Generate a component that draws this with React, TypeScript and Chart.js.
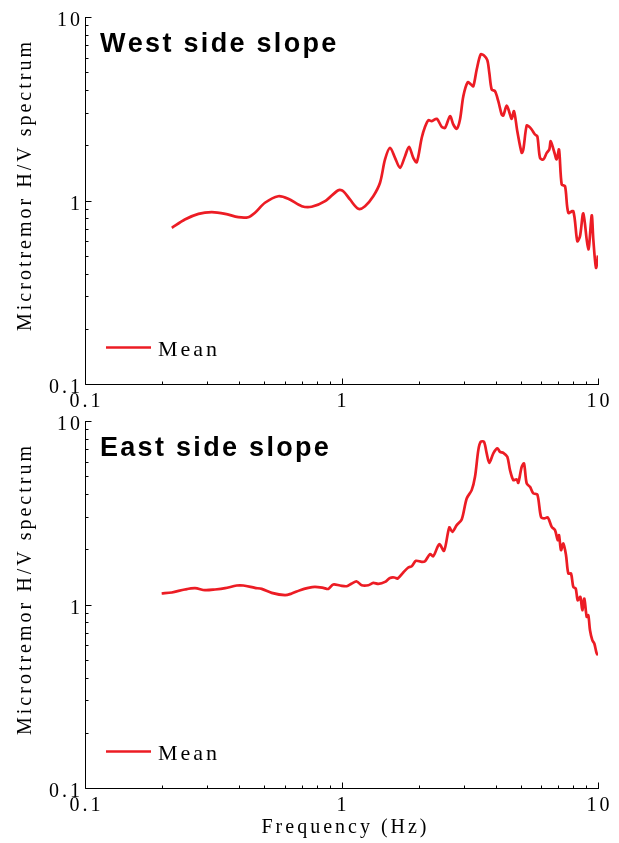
import React, { useEffect, useRef } from 'react';
import { Chart, registerables } from 'chart.js';

Chart.register(...registerables);

// ---------- data ----------
const westFreq = [
  0.218, 0.245, 0.277, 0.312, 0.352, 0.396, 0.433, 0.46, 0.503, 0.567, 0.62, 0.7, 0.765, 0.863, 0.972,
  1.016, 1.079, 1.163, 1.235, 1.33, 1.413, 1.478, 1.546, 1.617, 1.691, 1.769, 1.833, 1.905, 1.965,
  2.055, 2.117, 2.181, 2.248, 2.351, 2.459, 2.533, 2.649, 2.729, 2.813, 2.897, 2.985, 3.105, 3.198,
  3.265, 3.366, 3.489, 3.594, 3.702, 3.769, 3.851, 3.967, 4.086, 4.213, 4.274, 4.407, 4.539, 4.608,
  4.705, 4.846, 5.041, 5.114, 5.272, 5.397, 5.514, 5.681, 5.8, 5.942, 6.121, 6.31, 6.459, 6.541,
  6.738, 6.902, 7.047, 7.219, 7.437, 7.661, 8.012, 8.305, 8.508, 8.764, 9.166, 9.451, 9.588, 9.822, 10.0,
];
const westHV = [
  0.71, 0.788, 0.846, 0.864, 0.846, 0.811, 0.811, 0.857, 0.972, 1.055, 1.022, 0.931, 0.924, 0.991, 1.138,
  1.124, 1.013, 0.901, 0.931, 1.055, 1.249, 1.673, 1.938, 1.709, 1.507, 1.744, 1.962, 1.709, 1.617,
  2.196, 2.521, 2.739, 2.705, 2.788, 2.521, 2.49, 2.88, 2.595, 2.459, 2.764, 3.702, 4.413, 4.288,
  4.197, 5.176, 6.247, 6.169, 5.815, 4.966, 4.027, 3.942, 3.476, 2.942, 2.905, 3.294, 2.942, 2.788,
  3.067, 2.386, 1.819, 1.896, 2.563, 2.521, 2.438, 2.289, 2.241, 1.709, 1.673, 1.819, 1.896, 2.104,
  1.856, 1.673, 1.896, 1.222, 1.197, 0.857, 0.874, 0.6, 0.639, 0.85, 0.541, 0.829, 0.613, 0.43, 0.502,
];

const eastFreq = [
  0.199, 0.218, 0.245, 0.2685, 0.2937, 0.3213, 0.352, 0.3904, 0.4142, 0.46, 0.4885, 0.5345, 0.6023,
  0.6395, 0.6892, 0.7423, 0.7882, 0.8492, 0.8881, 0.929, 0.9867, 1.048, 1.096, 1.147, 1.199, 1.272,
  1.33, 1.392, 1.478, 1.546, 1.607, 1.656, 1.741, 1.821, 1.878, 1.952, 2.055, 2.117, 2.213, 2.28,
  2.406, 2.51, 2.632, 2.704, 2.813, 2.942, 3.077, 3.218, 3.315, 3.415, 3.489, 3.594, 3.682, 3.769,
  3.907, 4.05, 4.149, 4.274, 4.43, 4.539, 4.676, 4.819, 4.889, 5.041, 5.146, 5.272, 5.431, 5.595,
  5.8, 5.995, 6.175, 6.368, 6.6, 6.798, 6.965, 7.047, 7.174, 7.323, 7.504, 7.661, 7.849, 8.012,
  8.187, 8.335, 8.531, 8.686, 8.843, 9.036, 9.166, 9.307, 9.502, 9.674, 9.883, 10.0,
];
const eastHV = [
  1.148, 1.163, 1.207, 1.227, 1.197, 1.207, 1.227, 1.269, 1.269, 1.232, 1.216, 1.157, 1.124,
  1.148, 1.197, 1.232, 1.247, 1.232, 1.216, 1.285, 1.269, 1.258, 1.302, 1.335, 1.274, 1.274,
  1.311, 1.295, 1.328, 1.396, 1.403, 1.386, 1.494, 1.591, 1.618, 1.729, 1.707, 1.722, 1.88, 1.834,
  2.132, 1.96, 2.629, 2.488, 2.706, 2.908, 3.784, 4.201, 4.963, 6.94, 7.703, 7.703, 6.658, 5.916,
  6.658, 7.09, 6.795, 6.709, 6.379, 5.399, 4.762, 4.804, 4.603, 5.627, 5.872, 4.568, 4.377, 4.03,
  3.98, 3.004, 2.944, 2.981, 2.649, 2.542, 2.242, 2.387, 1.978, 2.15, 1.857, 1.476, 1.476, 1.247,
  1.222, 1.055, 1.1, 0.931, 1.078, 0.856, 0.874, 0.724, 0.639, 0.613, 0.541, 0.529,
];

const majorTickValues = [0.1, 1, 10];
const majorTickLabels = ['0.1', '1', '10'];
const minorTickValues = [0.2, 0.3, 0.4, 0.5, 0.6, 0.7, 0.8, 0.9, 2, 3, 4, 5, 6, 7, 8, 9];

const yAxisTitle = 'Microtremor H/V spectrum';
const xAxisTitle = 'Frequency (Hz)';
const seriesLabel = 'Mean';
const westTitle = 'West side slope';
const eastTitle = 'East side slope';

const RED = '#ec1c24';
const SERIF = '"Liberation Serif", "Times New Roman", serif';
const SANS = '"Liberation Sans", Arial, sans-serif';

// draw text char by char with letter spacing
function spacedText(
  ctx: CanvasRenderingContext2D,
  text: string,
  x: number,
  y: number,
  align: 'left' | 'center' | 'right',
  ls: number
) {
  ctx.textAlign = 'left';
  const widths = Array.from(text).map((c) => ctx.measureText(c).width);
  const total = widths.reduce((a, b) => a + b, 0) + ls * (text.length - 1);
  let cx = align === 'left' ? x : align === 'center' ? x - total / 2 : x - total;
  Array.from(text).forEach((c, i) => {
    ctx.fillText(c, cx, y);
    cx += widths[i] + ls;
  });
}

function makeDecor(title: string, showXTitle: boolean) {
  return {
    id: 'decor',
    afterDraw(chart: any) {
      const ctx: CanvasRenderingContext2D = chart.ctx;
      const xs = chart.scales.x;
      const ys = chart.scales.y;
      const area = chart.chartArea;
      const ax = Math.round(xs.getPixelForValue(0.1)) + 0.5;
      const ay = Math.round(ys.getPixelForValue(0.1)) + 0.5;
      const yTop = Math.round(ys.getPixelForValue(10));
      const xRight = Math.round(xs.getPixelForValue(10)) + 1;
      ctx.save();
      ctx.strokeStyle = '#000';
      ctx.lineWidth = 1;
      ctx.beginPath();
      ctx.moveTo(ax, yTop);
      ctx.lineTo(ax, ay);
      ctx.lineTo(xRight, ay);
      // ticks
      const tick = (v: number, len: number) => {
        const px = Math.round(xs.getPixelForValue(v)) + 0.5;
        ctx.moveTo(px, ay);
        ctx.lineTo(px, ay - len);
        const py = Math.round(ys.getPixelForValue(v)) + 0.5;
        ctx.moveTo(ax, py);
        ctx.lineTo(ax + len, py);
      };
      majorTickValues.forEach((v) => tick(v, 6));
      minorTickValues.forEach((v) => tick(v, 3));
      ctx.stroke();

      // tick labels
      ctx.fillStyle = '#000';
      ctx.font = `20px ${SERIF}`;
      ctx.textBaseline = 'alphabetic';
      majorTickValues.forEach((v, i) => {
        const px = xs.getPixelForValue(v);
        spacedText(ctx, majorTickLabels[i], px, ay + 22, 'center', 3);
        const py = ys.getPixelForValue(v);
        spacedText(ctx, majorTickLabels[i], 80, py + 9, 'right', 3);
      });

      // y title
      ctx.save();
      ctx.translate(31, (area.top + area.bottom) / 2 - 14);
      ctx.rotate(-Math.PI / 2);
      spacedText(ctx, yAxisTitle, 0, 0, 'center', 3);
      ctx.restore();

      // x title
      if (showXTitle) {
        spacedText(ctx, xAxisTitle, (area.left + area.right) / 2 + 2.5, area.bottom + 45, 'center', 3);
      }

      // panel title
      ctx.font = `bold 27px ${SANS}`;
      spacedText(ctx, title, 100, area.top + 34.5, 'left', 2.3);

      // legend
      ctx.strokeStyle = RED;
      ctx.lineWidth = 2.6;
      ctx.beginPath();
      ctx.moveTo(106, area.top + 330.5);
      ctx.lineTo(151, area.top + 330.5);
      ctx.stroke();
      ctx.font = `22px ${SERIF}`;
      spacedText(ctx, seriesLabel, 158, area.top + 339, 'left', 3);
      ctx.restore();
    },
  };
}

type PanelProps = {
  freq: number[];
  hv: number[];
  title: string;
  top: number;
  height: number;
  padTop: number;
  padBottom: number;
  showXTitle: boolean;
};

function Panel({ freq, hv, title, top, height, padTop, padBottom, showXTitle }: PanelProps) {
  const ref = useRef<HTMLCanvasElement | null>(null);
  useEffect(() => {
    if (!ref.current) return;
    const chart = new Chart(ref.current, {
      type: 'line',
      data: {
        datasets: [
          {
            label: seriesLabel,
            data: freq.map((f, i) => ({ x: f, y: hv[i] })),
            borderColor: RED,
            backgroundColor: RED,
            borderWidth: 2.7,
            pointRadius: 0,
            tension: 0.3,
            fill: false,
          },
        ],
      },
      options: {
        animation: false,
        responsive: false,
        maintainAspectRatio: false,
        layout: { padding: { left: 85, right: 21, top: padTop, bottom: padBottom } },
        plugins: { legend: { display: false }, tooltip: { enabled: false } },
        scales: {
          x: { type: 'logarithmic', min: 0.1, max: 10, display: false },
          y: { type: 'logarithmic', min: 0.1, max: 10, display: false },
        },
      },
      plugins: [makeDecor(title, showXTitle)],
    } as any);
    return () => chart.destroy();
  }, []);
  return (
    <canvas
      ref={ref}
      width={619}
      height={height}
      style={{ position: 'absolute', left: 0, top, width: 619, height, display: 'block' }}
    />
  );
}

export default function App() {
  return (
    <div
      style={{
        position: 'absolute',
        left: 0,
        top: 0,
        width: 619,
        height: 843,
        background: '#fff',
        overflow: 'hidden',
      }}
    >
      <Panel freq={westFreq} hv={westHV} title={westTitle} top={0} height={410} padTop={17} padBottom={26} showXTitle={false} />
      <Panel freq={eastFreq} hv={eastHV} title={eastTitle} top={410} height={433} padTop={11} padBottom={55} showXTitle={true} />
    </div>
  );
}
